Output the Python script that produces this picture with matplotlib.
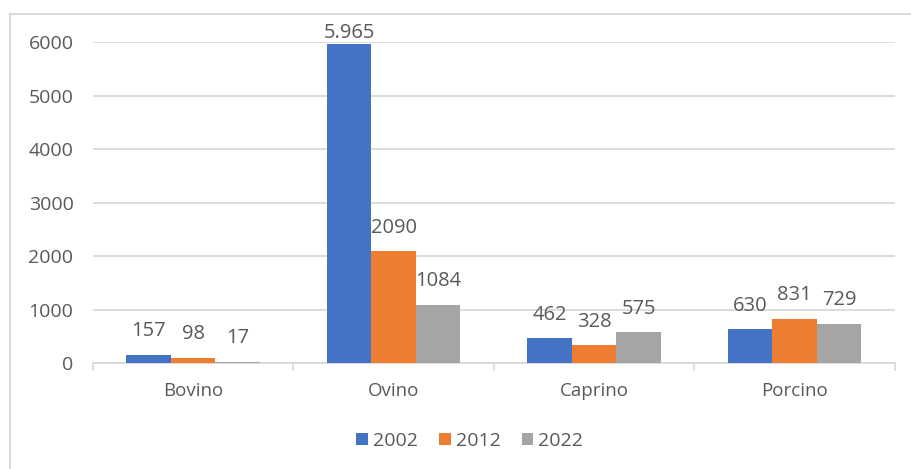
import matplotlib.pyplot as plt
import numpy as np
from matplotlib.lines import Line2D

categories = ["Bovino", "Ovino", "Caprino", "Porcino"]
years = ["2002", "2012", "2022"]
values = {
    "2002": [157, 5965, 462, 630],
    "2012": [98, 2090, 328, 831],
    "2022": [17, 1084, 575, 729],
}
labels = {
    "2002": ["157", "5.965", "462", "630"],
    "2012": ["98", "2090", "328", "831"],
    "2022": ["17", "1084", "575", "729"],
}
colors = ["#4472C4", "#ED7D31", "#A5A5A5"]
text_color = "#595959"

plt.rcParams["font.family"] = ["Open Sans", "DejaVu Sans"]

fig = plt.figure(figsize=(9.11, 4.69), dpi=100)
ax = fig.add_axes([0.102, 0.226, 0.880, 0.684])

x = np.arange(len(categories))
w = 1 / 4.5
for i, year in enumerate(years):
    pos = x + (i - 1) * w
    bars = ax.bar(pos, values[year], width=w, color=colors[i], label=year, zorder=3)
    for b, v, lab in zip(bars, values[year], labels[year]):
        off = 8 if v > 5500 else 17
        ax.annotate(lab, (b.get_x() + b.get_width() / 2, v), xytext=(0, off),
                    textcoords="offset points", ha="center", va="center",
                    fontsize=14.5, color=text_color, clip_on=False)

ax.set_xlim(-0.5, len(categories) - 0.5)
ax.set_ylim(0, 6000)
ax.set_yticks(range(0, 6001, 1000))
ax.yaxis.grid(True, color="#D9D9D9", linewidth=1.3, zorder=0)
ax.set_axisbelow(True)

ax.set_xticks(x)
ax.set_xticklabels(categories)
ax.set_xticks(np.arange(-0.5, len(categories), 1), minor=True)
ax.tick_params(axis="x", which="major", length=0, pad=14, labelsize=13.5, labelcolor=text_color)
ax.tick_params(axis="x", which="minor", length=6, width=1.3, color="#D9D9D9")
ax.tick_params(axis="y", length=0, pad=14, labelsize=14, labelcolor=text_color)

for s in ["top", "right", "left"]:
    ax.spines[s].set_visible(False)
ax.spines["bottom"].set_color("#D9D9D9")
ax.spines["bottom"].set_linewidth(1.3)

ax.legend(loc="upper center", bbox_to_anchor=(0.47, -0.16), ncol=3, frameon=False,
          fontsize=14, labelcolor=text_color, handlelength=0.6, handleheight=0.6,
          handletextpad=0.25, columnspacing=1.1)

fig.add_artist(Line2D([10 / 911, 1.0], [1 - 14 / 469, 1 - 14 / 469],
                      transform=fig.transFigure, color="#D9D9D9", linewidth=1.5))
fig.add_artist(Line2D([10 / 911, 10 / 911], [0, 1 - 14 / 469],
                      transform=fig.transFigure, color="#D9D9D9", linewidth=1.5))

fig.savefig("out.png", dpi=100)
